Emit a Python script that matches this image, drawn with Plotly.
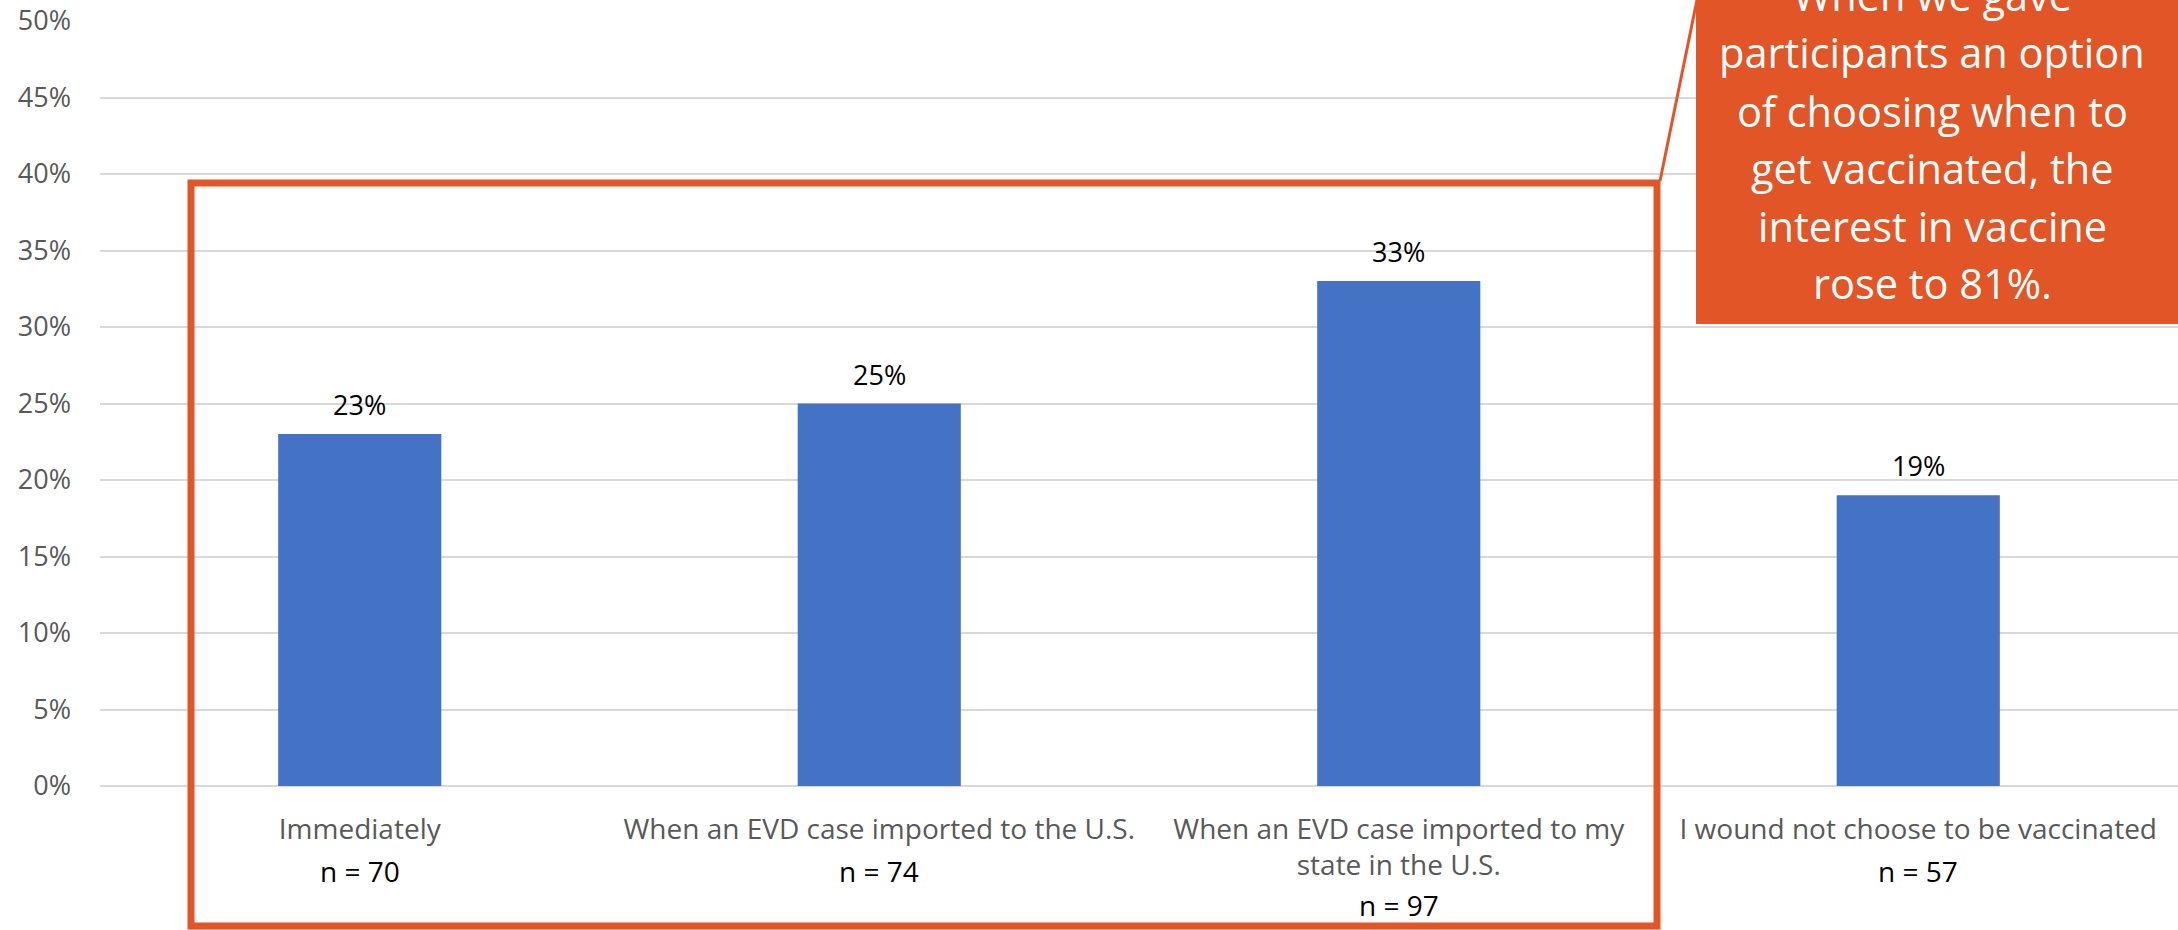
import plotly.graph_objects as go

# ---- data ----
categories = [
    "Immediately",
    "When an EVD case imported to the U.S.",
    "When an EVD case imported to my<br>state in the U.S.",
    "I wound not choose to be vaccinated",
]
n_values = [70, 74, 97, 57]
shares = [0.23, 0.25, 0.33, 0.19]
y_ticks = [0, 0.05, 0.10, 0.15, 0.20, 0.25, 0.30, 0.35, 0.40, 0.45, 0.50]
callout_lines = [
    "When we gave",
    "participants an option",
    "of choosing when to",
    "get vaccinated, the",
    "interest in vaccine",
    "rose to 81%.",
]

# ---- layout constants ----
W, H = 2178, 930
ML, MR, MT, MB = 100, 0, 21, 144
PW, PH = W - ML - MR, H - MT - MB
ORANGE = "#E15526"
BLUE = "#4472C4"
GREY = "#595959"
FONT = "Open Sans"


def px_x(px):
    return (px - ML) / PW


def px_y(py):
    return (H - MB - py) / PH


xs = list(range(len(categories)))

fig = go.Figure()
fig.add_trace(
    go.Bar(
        x=xs,
        y=shares,
        marker=dict(color=BLUE, line=dict(width=0)),
        width=0.314,
        hoverinfo="skip",
    )
)

shapes = [
    # frame around first three categories
    dict(type="rect", xref="paper", yref="paper",
         x0=px_x(191), x1=px_x(1657), y0=px_y(926), y1=px_y(183),
         line=dict(color=ORANGE, width=7), fillcolor="rgba(0,0,0,0)", layer="above"),
    # connector
    dict(type="line", xref="paper", yref="paper",
         x0=px_x(1660), y0=px_y(181), x1=px_x(1698), y1=px_y(-5),
         line=dict(color=ORANGE, width=3), layer="above"),
    # callout box
    dict(type="rect", xref="paper", yref="paper",
         x0=px_x(1696), x1=px_x(2200), y0=px_y(324), y1=px_y(-60),
         line=dict(width=0), fillcolor=ORANGE, layer="above"),
]

annotations = []
# data labels above bars
for xv, v in zip(xs, shares):
    annotations.append(dict(
        xref="x", yref="y", x=xv, y=v, text=f"{v:.0%}", showarrow=False,
        xanchor="center", yanchor="bottom", yshift=9,
        font=dict(family=FONT, size=27, color="#000000"),
    ))

# sample sizes under category labels
for xv, c, n in zip(xs, categories, n_values):
    extra_lines = c.count("<br>")
    center = 871 + 34 * extra_lines
    annotations.append(dict(
        xref="x", yref="paper", x=xv, y=px_y(center), text=f"n = {n}",
        showarrow=False, xanchor="center", yanchor="middle",
        font=dict(family=FONT, size=28, color="#000000"),
    ))

baselines = [10, 67, 126, 183, 241, 298]
for line, b in zip(callout_lines, baselines):
    annotations.append(dict(
        xref="paper", yref="paper", x=px_x(1932), y=px_y(b - 15),
        text=line, showarrow=False, xanchor="center", yanchor="middle",
        font=dict(family=FONT, size=41.5, color="#FFFFFF"),
    ))

fig.update_layout(
    width=W, height=H,
    margin=dict(l=ML, r=MR, t=MT, b=MB, pad=0),
    paper_bgcolor="#FFFFFF", plot_bgcolor="#FFFFFF",
    showlegend=False,
    shapes=shapes,
    annotations=annotations,
    font=dict(family=FONT),
    xaxis=dict(
        range=[-0.5, 3.5],
        tickmode="array",
        tickvals=xs,
        ticktext=categories,
        tickfont=dict(family=FONT, size=28, color=GREY),
        showgrid=False, zeroline=False, showline=False,
        ticks="", ticklabelstandoff=24,
        fixedrange=True,
    ),
    yaxis=dict(
        range=[0, 0.5],
        tickmode="array",
        tickvals=y_ticks,
        tickformat=".0%",
        tickfont=dict(family=FONT, size=27, color=GREY),
        showgrid=True, gridcolor="#D9D9D9", gridwidth=1.5,
        zeroline=True, zerolinecolor="#D9D9D9", zerolinewidth=1.5,
        showline=False, ticks="", ticklabelstandoff=28,
        fixedrange=True,
    ),
)

fig.write_html(
    "out.html",
    config={"displayModeBar": False},
    post_script="document.body.style.margin='0';document.body.style.overflow='hidden';",
)
